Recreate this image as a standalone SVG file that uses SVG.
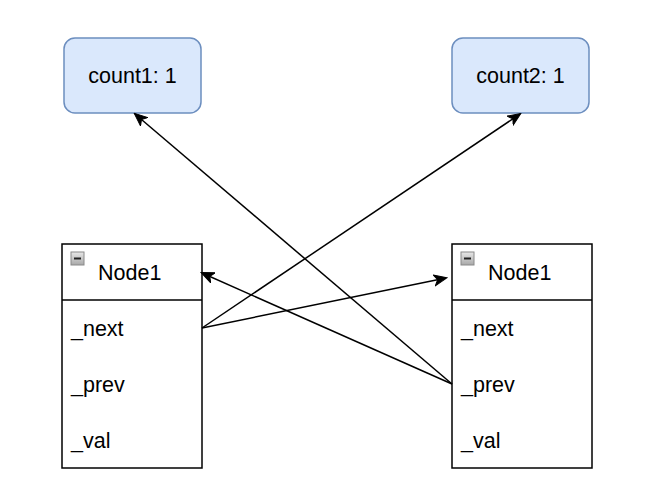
<svg xmlns="http://www.w3.org/2000/svg" width="669" height="500" viewBox="0 0 669 500">
<style>
.cnt{fill:#dae8fc;stroke:#6c8ebf;stroke-width:1.5}
.box{fill:#fff;stroke:#000;stroke-width:1.5}
.t{font-family:"Liberation Sans",Arial,sans-serif;font-size:21.5px;fill:#000}
.c{stroke:#000;stroke-width:1.5;fill:none;marker-end:url(#ah)}
</style>
<defs>
<marker id="ah" markerWidth="14" markerHeight="14" refX="12" refY="7" orient="auto" markerUnits="userSpaceOnUse" viewBox="0 0 14 14">
<path d="M0,1.5 L13,7 L0,12.5 L3.5,7 Z" fill="#000" stroke="#000" stroke-width="1"/>
</marker>
<linearGradient id="ig" x1="0" y1="0" x2="0" y2="1">
<stop offset="0" stop-color="#e8e8e8"/>
<stop offset="1" stop-color="#a8a8a8"/>
</linearGradient>
<g id="icon">
<rect x="0" y="0" width="13" height="13" fill="url(#ig)" stroke="#8a8a8a" stroke-width="1"/>
<rect x="3" y="5.5" width="7" height="2" fill="#222"/>
</g>
</defs>
<g id="count1">
<rect class="cnt" x="64" y="38" width="137" height="75" rx="11"/>
<text class="t" x="132.5" y="83" text-anchor="middle">count1: 1</text>
</g>
<g id="count2">
<rect class="cnt" x="452" y="38" width="137" height="75" rx="11"/>
<text class="t" x="520.5" y="83" text-anchor="middle">count2: 1</text>
</g>
<g id="node1a">
<rect class="box" x="62" y="244" width="140" height="224"/>
<line x1="62" y1="300" x2="202" y2="300" stroke="#000" stroke-width="1.5"/>
<use href="#icon" x="71" y="252"/>
<text class="t" x="98" y="280">Node1</text>
<text class="t" x="71" y="336">_next</text>
<text class="t" x="71" y="392">_prev</text>
<text class="t" x="71" y="448">_val</text>
</g>
<g id="node1b">
<rect class="box" x="452" y="244" width="140" height="224"/>
<line x1="452" y1="300" x2="592" y2="300" stroke="#000" stroke-width="1.5"/>
<use href="#icon" x="461" y="252"/>
<text class="t" x="488" y="280">Node1</text>
<text class="t" x="461" y="336">_next</text>
<text class="t" x="461" y="392">_prev</text>
<text class="t" x="461" y="448">_val</text>
</g>
<g id="connectors">
<line class="c" x1="202" y1="328" x2="446" y2="278"/>
<line class="c" x1="202" y1="328" x2="520" y2="114"/>
<line class="c" x1="452" y1="384" x2="202" y2="273"/>
<line class="c" x1="452" y1="384" x2="135" y2="114"/>
</g>
</svg>
